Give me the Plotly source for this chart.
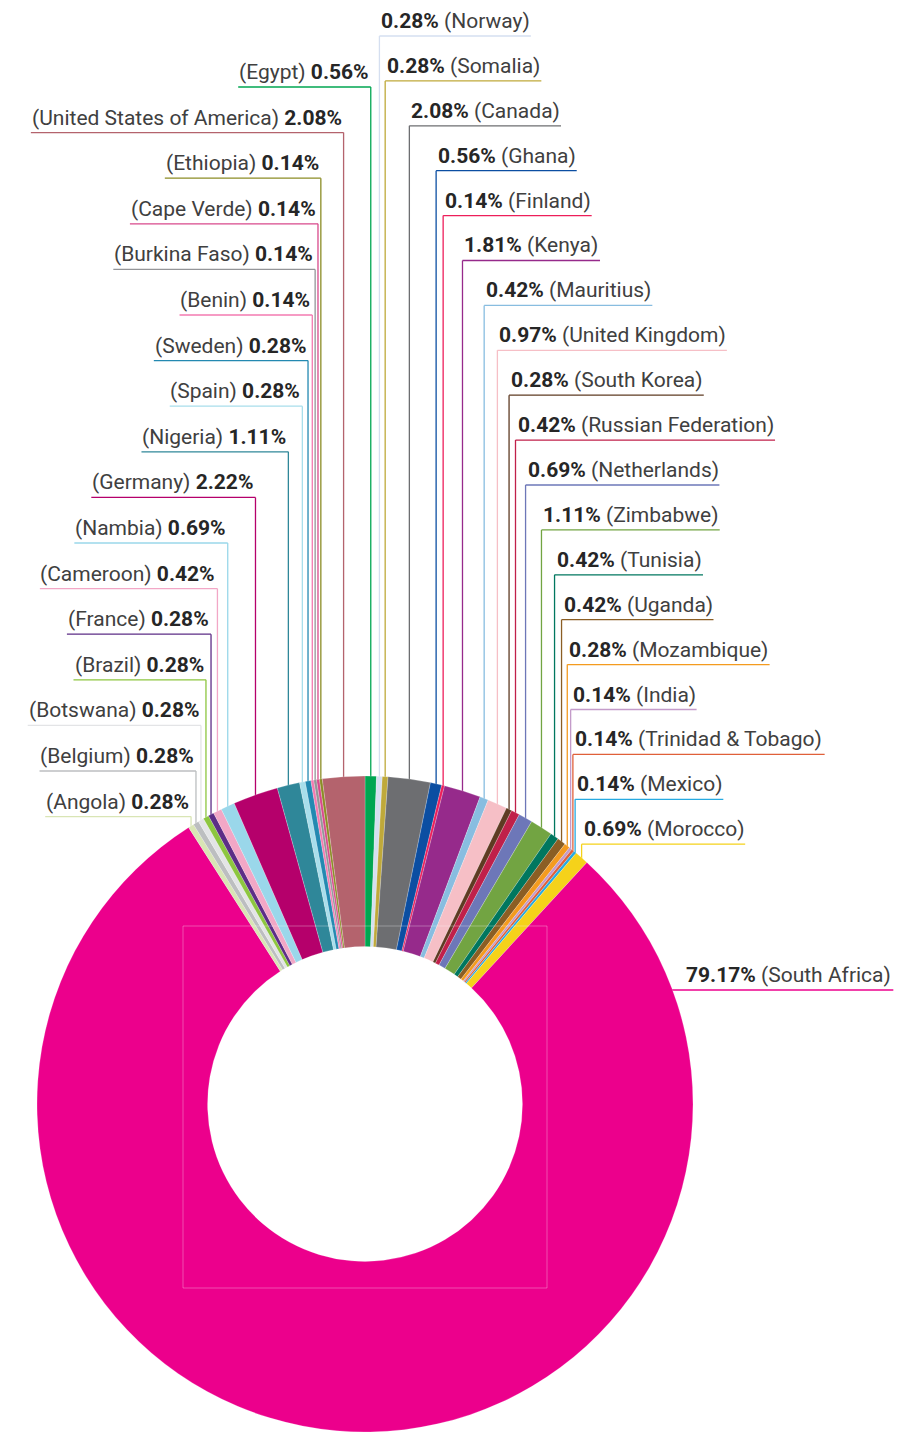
import math
import plotly.graph_objects as go

# ---------------- data (clockwise from 12 o'clock) ----------------
countries = ["Egypt", "Norway", "Somalia", "Canada", "Ghana", "Finland", "Kenya",
             "Mauritius", "United Kingdom", "South Korea", "Russian Federation",
             "Netherlands", "Zimbabwe", "Tunisia", "Uganda", "Mozambique", "India",
             "Trinidad & Tobago", "Mexico", "Morocco", "South Africa", "Angola",
             "Belgium", "Botswana", "Brazil", "France", "Cameroon", "Nambia",
             "Germany", "Nigeria", "Spain", "Sweden", "Benin", "Burkina Faso",
             "Cape Verde", "Ethiopia", "United States of America"]
shares = [0.56, 0.28, 0.28, 2.08, 0.56, 0.14, 1.81,
          0.42, 0.97, 0.28, 0.42,
          0.69, 1.11, 0.42, 0.42, 0.28, 0.14,
          0.14, 0.14, 0.69, 79.17, 0.28,
          0.28, 0.28, 0.28, 0.28, 0.42, 0.69,
          2.22, 1.11, 0.28, 0.28, 0.14, 0.14,
          0.14, 0.14, 2.08]
colors = ["#00A651", "#D5DFF0", "#BFA93A", "#6D6E71", "#0B4EA2", "#ED1E5A", "#962A8B",
          "#88BDE0", "#F6BFC6", "#5E3B22", "#C0204A",
          "#6D77B8", "#72A442", "#00775F", "#8B5E24", "#F49B1F", "#C49BC9",
          "#E0603A", "#27AAE1", "#F5D21A", "#EC008C", "#D9E5B5",
          "#BCBEC0", "#E3E4E6", "#8DC63F", "#5C2D86", "#F2A7C6", "#9AD7EA",
          "#B5006B", "#2F8799", "#A8DEEB", "#2389B1", "#F37AB0", "#949598",
          "#D8498B", "#8B8C25", "#B4636D"]

# ---------------- layout constants ----------------
W, H = 897, 1432
CX, CY, R = 365, 1104, 328
HOLE = 0.48
FONT = "Roboto"
FS = 21
RIGHT_STACK = ["Norway", "Somalia", "Canada", "Ghana", "Finland", "Kenya", "Mauritius",
               "United Kingdom", "South Korea", "Russian Federation", "Netherlands",
               "Zimbabwe", "Tunisia", "Uganda", "Mozambique", "India",
               "Trinidad & Tobago", "Mexico", "Morocco"]
LEFT_STACK = ["Egypt", "United States of America", "Ethiopia", "Cape Verde",
              "Burkina Faso", "Benin", "Sweden", "Spain", "Nigeria", "Germany",
              "Nambia", "Cameroon", "France", "Brazil", "Botswana", "Belgium", "Angola"]
RIGHT_Y0, RIGHT_STEP = 21, 44.9
LEFT_Y0, LEFT_STEP = 72, 45.6
BIG_LABEL = "South Africa"
BIG_Y = 975
UL_OFF = 15

# approximate Roboto advance widths (per 1000 em)
CW = {' ': 248, '(': 342, ')': 348, '.': 263, '%': 733, '&': 622,
      'A': 652, 'B': 622, 'C': 652, 'D': 656, 'E': 568, 'F': 553, 'G': 682, 'H': 714,
      'I': 272, 'J': 552, 'K': 627, 'L': 538, 'M': 873, 'N': 713, 'O': 688, 'P': 631,
      'Q': 688, 'R': 616, 'S': 593, 'T': 597, 'U': 648, 'V': 636, 'W': 887, 'X': 627,
      'Y': 601, 'Z': 599,
      'a': 544, 'b': 561, 'c': 523, 'd': 564, 'e': 530, 'f': 347, 'g': 561, 'h': 551,
      'i': 243, 'j': 239, 'k': 507, 'l': 243, 'm': 877, 'n': 552, 'o': 570, 'p': 561,
      'q': 568, 'r': 338, 's': 516, 't': 327, 'u': 551, 'v': 484, 'w': 751, 'x': 496,
      'y': 473, 'z': 496}


def text_w(s, bold=False):
    w = sum(CW.get(ch, 562) for ch in s) / 1000.0 * FS
    return w * (1.04 if bold else 1.0)


def px(x):
    return x / W


def py(y):
    return 1 - y / H


total = sum(shares)
mid_angle = {}
acc = 0.0
for c, v in zip(countries, shares):
    a = (acc + v / 2) / total * 2 * math.pi
    if a > math.pi:
        a -= 2 * math.pi
    mid_angle[c] = a
    acc += v
color_of = dict(zip(countries, colors))
share_of = dict(zip(countries, shares))

fig = go.Figure()
fig.add_trace(go.Pie(
    labels=countries, values=shares, sort=False, direction="clockwise", rotation=0,
    hole=HOLE, textinfo="none", hoverinfo="label+percent",
    marker=dict(colors=colors, line=dict(color="rgba(255,255,255,0.35)", width=0.6)),
    domain=dict(x=[(CX - R) / W, (CX + R) / W], y=[(H - CY - R) / H, (H - CY + R) / H]),
    showlegend=False,
))

shapes = []
annotations = []
BOLD_C = "#262626"
REG_C = "#404040"


def add_line(x0, y0, x1, y1, col):
    shapes.append(dict(type="line", xref="paper", yref="paper",
                       x0=px(x0), y0=py(y0), x1=px(x1), y1=py(y1),
                       line=dict(color=col, width=1.3), layer="below"))


for i, c in enumerate(RIGHT_STACK):
    pct = f"{share_of[c]:.2f}%"
    name = f"({c})"
    ly = RIGHT_Y0 + i * RIGHT_STEP
    uy = ly + UL_OFF
    a = mid_angle[c]
    lx = CX + R * math.sin(a)
    ey = CY - (R - 4) * math.cos(a)
    tw = text_w(pct, True) + text_w(" ") + text_w(name)
    add_line(lx, uy, lx + 2 + tw, uy, color_of[c])
    add_line(lx, uy, lx, ey, color_of[c])
    annotations.append(dict(
        xref="paper", yref="paper", x=px(lx + 2), y=py(ly), xanchor="left", yanchor="middle",
        text=f"<b>{pct}</b> <span style='color:{REG_C}'>{name}</span>",
        showarrow=False, borderpad=0, borderwidth=0,
        font=dict(family=FONT, size=FS, color=BOLD_C)))

for i, c in enumerate(LEFT_STACK):
    pct = f"{share_of[c]:.2f}%"
    name = f"({c})"
    ly = LEFT_Y0 + i * LEFT_STEP
    uy = ly + UL_OFF
    a = mid_angle[c]
    lx = CX + R * math.sin(a)
    ey = CY - (R - 4) * math.cos(a)
    tw = text_w(pct, True) + text_w(" ") + text_w(name)
    add_line(lx - 2 - tw, uy, lx, uy, color_of[c])
    add_line(lx, uy, lx, ey, color_of[c])
    annotations.append(dict(
        xref="paper", yref="paper", x=px(lx - 2), y=py(ly), xanchor="right", yanchor="middle",
        text=f"<span style='color:{REG_C}'>{name}</span> <b>{pct}</b>",
        showarrow=False, borderpad=0, borderwidth=0,
        font=dict(family=FONT, size=FS, color=BOLD_C)))

# big slice label, line starting at the ring's outer edge
c = BIG_LABEL
pct = f"{share_of[c]:.2f}%"
name = f"({c})"
uy = BIG_Y + UL_OFF
lx = CX + math.sqrt(R ** 2 - (uy - CY) ** 2) - 3
tx = lx + 16
tw = text_w(pct, True) + text_w(" ") + text_w(name)
add_line(lx, uy, tx + tw + 2, uy, color_of[c])
annotations.append(dict(
    xref="paper", yref="paper", x=px(tx), y=py(BIG_Y), xanchor="left", yanchor="middle",
    text=f"<b>{pct}</b> <span style='color:{REG_C}'>{name}</span>",
    showarrow=False, borderpad=0, borderwidth=0,
    font=dict(family=FONT, size=FS, color=BOLD_C)))

# faint guide square over the ring
shapes.append(dict(type="rect", xref="paper", yref="paper",
                   x0=px(CX - 182), x1=px(CX + 182), y0=py(CY - 178), y1=py(CY + 184),
                   line=dict(color="rgba(255,255,255,0.3)", width=1), layer="above"))

fig.update_layout(
    width=W, height=H, margin=dict(l=0, r=0, t=0, b=0),
    paper_bgcolor="white", plot_bgcolor="white",
    shapes=shapes, annotations=annotations, showlegend=False,
)
fig.write_html("out.html")
